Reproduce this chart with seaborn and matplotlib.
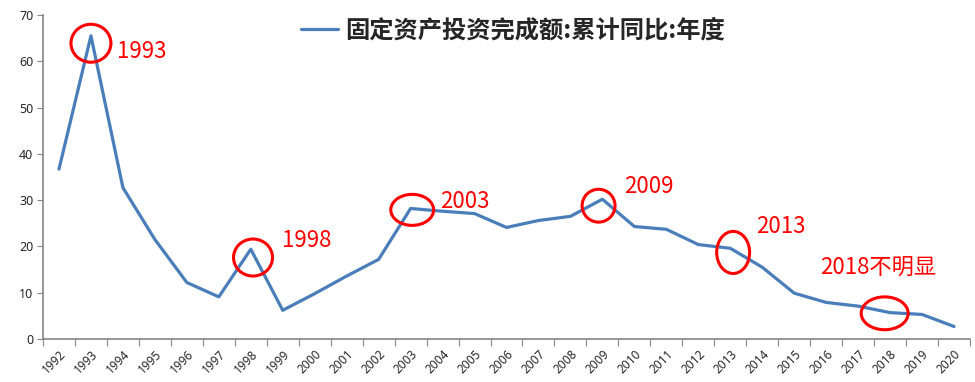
import pandas as pd
import numpy as np
import matplotlib
matplotlib.use("Agg")
import matplotlib.pyplot as plt
from matplotlib.patches import Ellipse
import seaborn as sns

# datos
years = list(range(1992, 2021))
growth = [36.7, 65.5, 32.7, 21.5, 12.2, 9.1, 19.4, 6.2, 9.8, 13.6,
          17.2, 28.2, 27.6, 27.1, 24.1, 25.6, 26.5, 30.2, 24.3, 23.7,
          20.4, 19.6, 15.5, 9.9, 7.9, 7.1, 5.7, 5.3, 2.7]
series_name = "固定资产投资完成额:累计同比:年度"

# anotaciones (año marcado, texto)
note_years = [1993, 1998, 2003, 2009, 2013, 2018]
note_texts = ["1993", "1998", "2003", "2009", "2013", "2018不明显"]

df = pd.DataFrame({"year": years, "value": growth})

sns.set_style("white")
plt.rcParams["font.family"] = ["Noto Sans", "Noto Sans CJK SC", "DejaVu Sans"]

fig = plt.figure(figsize=(9.75, 3.82), dpi=100)
ax = fig.add_axes([0.0441, 0.1126, 0.9508, 0.8481])

sns.lineplot(data=df, x="year", y="value", color="#4A7EBB", linewidth=2.3,
             label=series_name, ax=ax)

ax.set_xlim(1991.5, 2020.5)
ax.set_ylim(0, 70)
ax.set_yticks(range(0, 71, 10))
ax.set_xlabel("")
ax.set_ylabel("")

# ticks en los limites de cada categoria, etiquetas en el centro
ax.set_xticks(np.arange(1991.5, 2021, 1.0))
ax.set_xticklabels([])
ax.set_xticks(years, minor=True)
ax.set_xticklabels([str(y) for y in years], minor=True, rotation=45,
                   ha="right", rotation_mode="anchor", fontsize=8.5)
ax.tick_params(axis="x", which="major", direction="out", length=5,
               color="#868686", bottom=True)
ax.tick_params(axis="x", which="minor", length=0, pad=6)
ax.tick_params(axis="y", direction="out", length=4, color="#868686",
               left=True, labelsize=9, pad=3)

sns.despine(ax=ax)
for s in ["left", "bottom"]:
    ax.spines[s].set_color("#868686")
    ax.spines[s].set_linewidth(1.2)

# circulos rojos y textos
ell = [(1993.0, 63.9, 1.25, 8.2), (1998.07, 17.6, 1.22, 8.0),
       (2003.05, 27.9, 1.34, 6.7), (2008.88, 28.8, 1.03, 7.1),
       (2013.09, 18.7, 1.03, 9.1), (2017.83, 5.55, 1.47, 7.1)]
txt = [(1993.81, 62.2), (1998.99, 21.2), (2003.93, 29.7),
       (2009.69, 33.0), (2013.82, 24.4), (2015.81, 15.3)]
for (cx, cy, w, h), (tx, ty), t in zip(ell, txt, note_texts):
    ax.add_patch(Ellipse((cx, cy), w, h, fill=False, edgecolor="#FF0000",
                         linewidth=2.2, zorder=5))
    ax.text(tx, ty, t, color="#FF0000", fontsize=16, va="center", ha="left",
            family=["Noto Sans CJK SC", "DejaVu Sans"])

leg = ax.legend(loc="center", bbox_to_anchor=(0.507, 0.953), frameon=False,
                handlelength=1.5, handletextpad=0.3,
                prop={"family": ["Noto Sans CJK SC"], "size": 17.5, "weight": "bold"})

fig.savefig("out.png", dpi=100)
